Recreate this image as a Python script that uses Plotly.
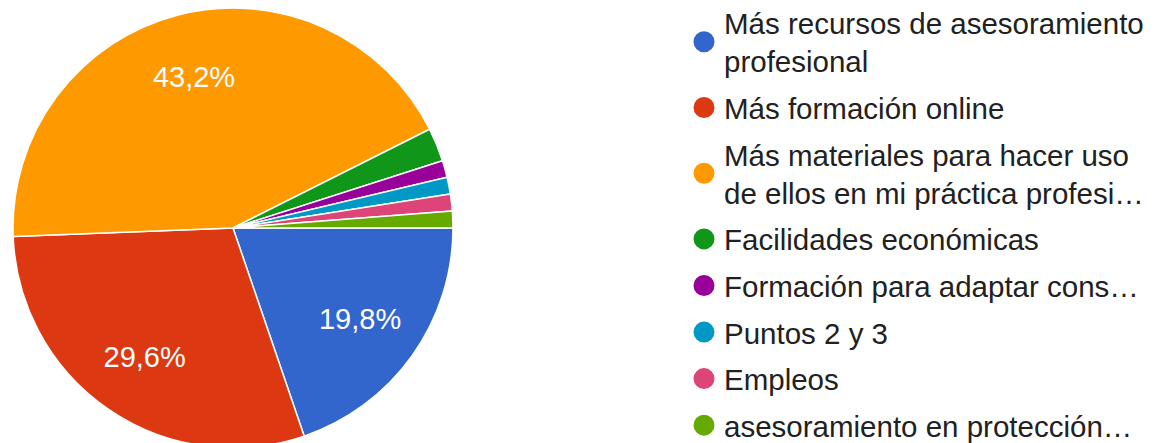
import plotly.graph_objects as go

labels = [
    "Más recursos de asesoramiento<br>profesional",
    "Más formación online",
    "Más materiales para hacer uso<br>de ellos en mi práctica profesi…",
    "Facilidades económicas",
    "Formación para adaptar cons…",
    "Puntos 2 y 3",
    "Empleos",
    "asesoramiento en protección…",
]
counts = [16, 24, 35, 2, 1, 1, 1, 1]
colors = ["#3366cc", "#dc3912", "#ff9900", "#109618", "#990099", "#0099c6", "#dd4477", "#66aa00"]

W, H = 1156, 443
FONT = "Liberation Sans, Arial, sans-serif"
pie_domain = dict(x=[5 / W, 445 / W], y=[3 / H, 1])

fig = go.Figure()
# slices
fig.add_trace(go.Pie(
    labels=labels,
    values=counts,
    sort=False,
    direction="clockwise",
    rotation=90,
    marker=dict(colors=colors, line=dict(color="white", width=1.5)),
    textinfo="none",
    showlegend=False,
    domain=pie_domain,
    hoverinfo="label+percent",
))
# percentage labels (transparent ring so labels sit further out, like the original)
fig.add_trace(go.Pie(
    labels=labels,
    values=counts,
    sort=False,
    direction="clockwise",
    rotation=90,
    hole=0.42,
    marker=dict(colors=["rgba(0,0,0,0)"] * len(counts), line=dict(width=0)),
    texttemplate="%{percent:.1%}",
    textposition="inside",
    insidetextorientation="horizontal",
    textfont=dict(color="white", size=29, family=FONT),
    showlegend=False,
    domain=pie_domain,
    hoverinfo="skip",
))

# legend entries with circle symbols
for i, (lab, col) in enumerate(zip(labels, colors)):
    fig.add_trace(go.Scatter(
        x=[None], y=[None], mode="markers", name=lab,
        marker=dict(symbol="circle", size=16, color=col, line=dict(color=col, width=5)),
        legendgroup=f"g{i}", showlegend=True, hoverinfo="skip",
    ))

fig.update_layout(
    width=W, height=H,
    margin=dict(l=0, r=0, t=0, b=0, autoexpand=False),
    paper_bgcolor="white", plot_bgcolor="white",
    separators=",.",
    uniformtext=dict(minsize=29, mode="hide"),
    xaxis=dict(visible=False), yaxis=dict(visible=False),
    font=dict(family=FONT, color="#212121"),
    legend=dict(
        x=676 / W, xanchor="left", y=1.025, yanchor="top",
        font=dict(size=29.5, family=FONT, color="#212121"),
        traceorder="grouped", tracegroupgap=5.2,
        maxheight=800,
        bgcolor="rgba(0,0,0,0)", borderwidth=0,
        itemclick=False, itemdoubleclick=False,
    ),
)

fig.write_html("out.html")
